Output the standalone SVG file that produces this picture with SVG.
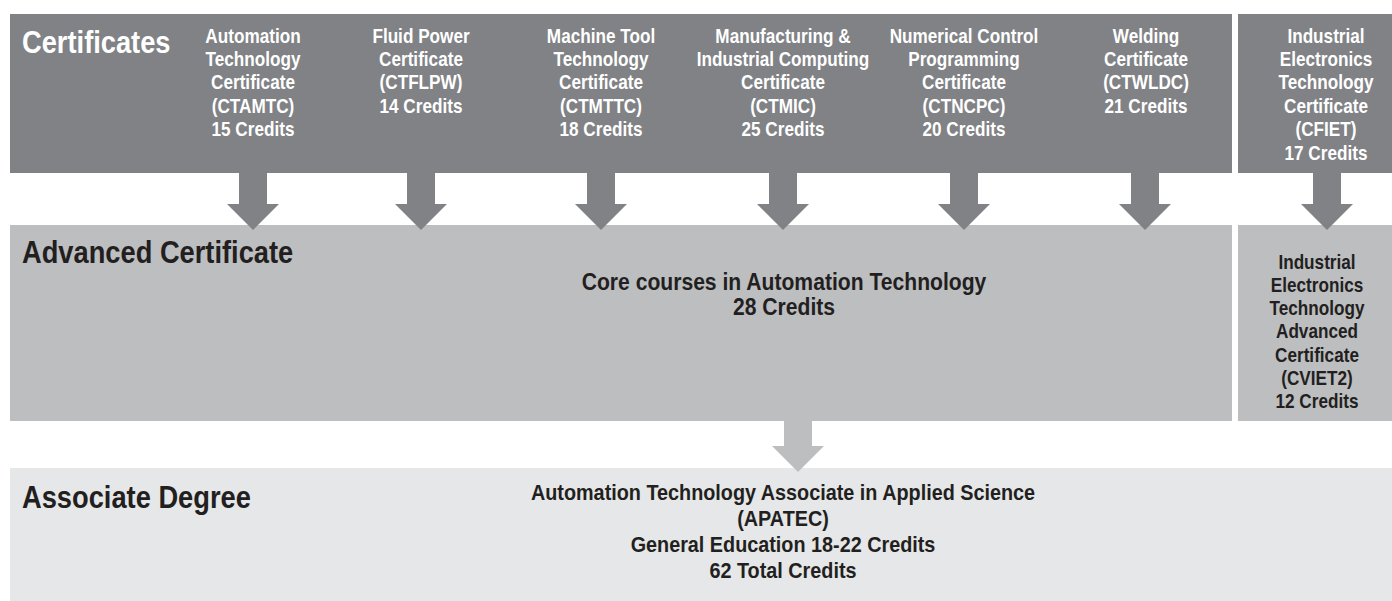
<svg xmlns="http://www.w3.org/2000/svg" width="1392" height="601" viewBox="0 0 1392 601">
<style>
.dark{fill:#808285}
.mid{fill:#bcbec0}
.light{fill:#e6e7e8}
text{font-family:"Liberation Sans",Arial,sans-serif;font-weight:bold}
.h{font-size:31px}
.w{fill:#ffffff}
.k{fill:#231f20}
.c{font-size:19.5px;text-anchor:middle}
.m{font-size:24px;text-anchor:middle;fill:#231f20}
.b{font-size:22.5px;text-anchor:middle;fill:#231f20}
</style>
<defs>
<path id="darr" d="M-14,0 H14 V31 H26 L0,57 L-26,31 H-14 Z"/>
</defs>
<rect width="1392" height="601" fill="#ffffff"/>

<g id="certificates">
<rect class="dark" x="10" y="14" width="1222" height="159"/>
<text class="h w" transform="translate(22,53) scale(0.88,1)" x="0" y="0">Certificates</text>
</g>
<g id="ctamtc">
<text class="c w" transform="translate(253,42.5) scale(0.88,1)" x="0" y="0">Automation<tspan x="0" dy="23.5">Technology</tspan><tspan x="0" dy="23.5">Certificate</tspan><tspan x="0" dy="23.5">(CTAMTC)</tspan><tspan x="0" dy="23.5">15 Credits</tspan></text>
</g>
<g id="ctflpw">
<text class="c w" transform="translate(421,42.5) scale(0.88,1)" x="0" y="0">Fluid Power<tspan x="0" dy="23.5">Certificate</tspan><tspan x="0" dy="23.5">(CTFLPW)</tspan><tspan x="0" dy="23.5">14 Credits</tspan></text>
</g>
<g id="ctmttc">
<text class="c w" transform="translate(601,42.5) scale(0.88,1)" x="0" y="0">Machine Tool<tspan x="0" dy="23.5">Technology</tspan><tspan x="0" dy="23.5">Certificate</tspan><tspan x="0" dy="23.5">(CTMTTC)</tspan><tspan x="0" dy="23.5">18 Credits</tspan></text>
</g>
<g id="ctmic">
<text class="c w" transform="translate(783,42.5) scale(0.88,1)" x="0" y="0">Manufacturing &amp;<tspan x="0" dy="23.5">Industrial Computing</tspan><tspan x="0" dy="23.5">Certificate</tspan><tspan x="0" dy="23.5">(CTMIC)</tspan><tspan x="0" dy="23.5">25 Credits</tspan></text>
</g>
<g id="ctncpc">
<text class="c w" transform="translate(964,42.5) scale(0.88,1)" x="0" y="0">Numerical Control<tspan x="0" dy="23.5">Programming</tspan><tspan x="0" dy="23.5">Certificate</tspan><tspan x="0" dy="23.5">(CTNCPC)</tspan><tspan x="0" dy="23.5">20 Credits</tspan></text>
</g>
<g id="ctwldc">
<text class="c w" transform="translate(1146,42.5) scale(0.88,1)" x="0" y="0">Welding<tspan x="0" dy="23.5">Certificate</tspan><tspan x="0" dy="23.5">(CTWLDC)</tspan><tspan x="0" dy="23.5">21 Credits</tspan></text>
</g>
<g id="cfiet">
<rect class="dark" x="1238" y="14" width="154" height="159"/>
<text class="c w" transform="translate(1326,42.5) scale(0.88,1)" x="0" y="0">Industrial<tspan x="0" dy="23.5">Electronics</tspan><tspan x="0" dy="23.5">Technology</tspan><tspan x="0" dy="23.5">Certificate</tspan><tspan x="0" dy="23.5">(CFIET)</tspan><tspan x="0" dy="23.5">17 Credits</tspan></text>
</g>

<g id="advanced">
<rect class="mid" x="10" y="225" width="1222" height="196"/>
<text class="h k" transform="translate(22,263) scale(0.88,1)" x="0" y="0">Advanced Certificate</text>
<text class="m" transform="translate(784,290) scale(0.88,1)" x="0" y="0">Core courses in Automation Technology<tspan x="0" dy="25">28 Credits</tspan></text>
</g>
<g id="cviet2">
<rect class="mid" x="1238" y="225" width="154" height="196"/>
<text class="c k" transform="translate(1317,268.5) scale(0.88,1)" x="0" y="0">Industrial<tspan x="0" dy="23.3">Electronics</tspan><tspan x="0" dy="23.3">Technology</tspan><tspan x="0" dy="23.3">Advanced</tspan><tspan x="0" dy="23.3">Certificate</tspan><tspan x="0" dy="23.3">(CVIET2)</tspan><tspan x="0" dy="23.3">12 Credits</tspan></text>
</g>

<g id="associate">
<rect class="light" x="10" y="468" width="1382" height="133"/>
<text class="h k" transform="translate(22,508) scale(0.88,1)" x="0" y="0">Associate Degree</text>
<text class="b" transform="translate(783,500) scale(0.88,1)" x="0" y="0">Automation Technology Associate in Applied Science<tspan x="0" dy="26">(APATEC)</tspan><tspan x="0" dy="26">General Education 18-22 Credits</tspan><tspan x="0" dy="26">62 Total Credits</tspan></text>
</g>

<g id="connectors">
<use href="#darr" class="dark" x="253" y="173"/>
<use href="#darr" class="dark" x="421" y="173"/>
<use href="#darr" class="dark" x="601" y="173"/>
<use href="#darr" class="dark" x="783" y="173"/>
<use href="#darr" class="dark" x="964" y="173"/>
<use href="#darr" class="dark" x="1145" y="173"/>
<use href="#darr" class="dark" x="1327" y="173"/>
<path class="mid" d="M784,421 H812 V446 H824 L798,472 L772,446 H784 Z"/>
</g>
</svg>
